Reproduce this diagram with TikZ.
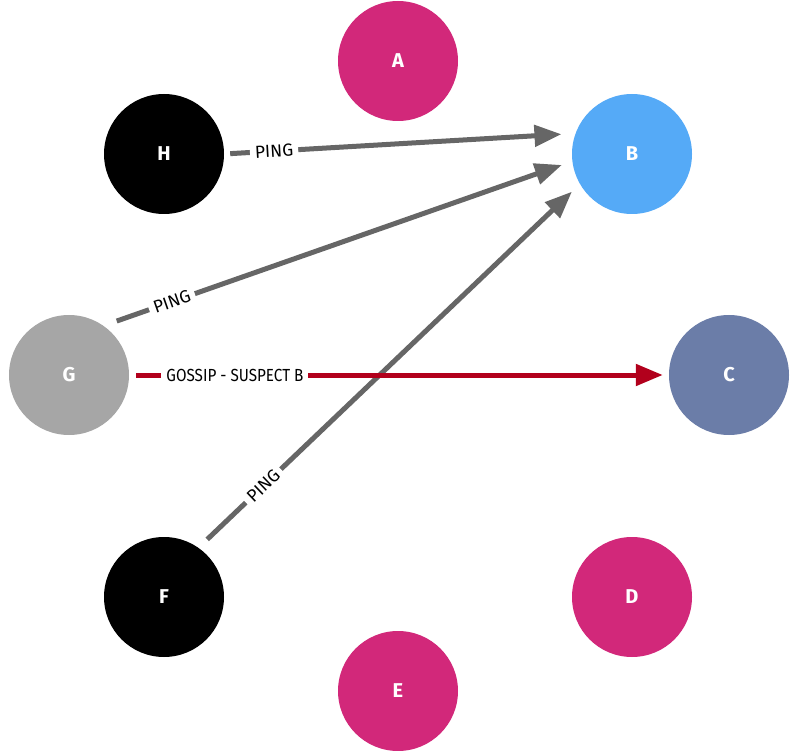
\documentclass[tikz,border=0pt]{standalone}
\usepackage{fontspec}
\setmainfont{Fira Sans}
\usetikzlibrary{arrows.meta}

\definecolor{peer}{RGB}{210,40,122}
\definecolor{target}{RGB}{85,170,247}
\definecolor{suspectnode}{RGB}{107,125,168}
\definecolor{sender}{RGB}{166,166,166}
\definecolor{pingline}{RGB}{102,102,102}
\definecolor{gossipline}{RGB}{178,0,28}

\tikzset{
  member/.style={circle, minimum size=120pt, inner sep=0pt, text=white,
    font=\fontsize{20}{20}\selectfont\bfseries},
  msg/.style={line width=5pt, line cap=butt,
    -{Triangle[length=27pt,width=21pt]}},
  ping/.style={msg, draw=pingline},
  gossip/.style={msg, draw=gossipline},
  tag/.style={fill=white, text=black, inner xsep=5pt, inner ysep=1pt,
    font=\fontsize{17.5}{17.5}\selectfont, sloped}
}

\begin{document}
\begin{tikzpicture}[x=1pt, y=-1pt]
  \useasboundingbox (0,0) rectangle (790,751);

  % cluster members arranged on a ring
  \node[member, fill=peer]        (A) at (398,61)  {A};
  \node[member, fill=target]      (B) at (632,154) {B};
  \node[member, fill=suspectnode] (C) at (729,375) {C};
  \node[member, fill=peer]        (D) at (632,597) {D};
  \node[member, fill=peer]        (E) at (398,691) {E};
  \node[member, fill=black]       (F) at (164,597) {F};
  \node[member, fill=sender]      (G) at (69,375)  {G};
  \node[member, fill=black]       (H) at (164,154) {H};

  % indirect probes towards B
  \draw[ping, shorten <=6pt, shorten >=14pt] (H.0) -- node[tag, pos=0.142] {PING} (B.160);
  \draw[ping, shorten <=14pt, shorten >=11pt] (G.55) -- node[tag, pos=0.146] {PING} (B.187);
  \draw[ping, shorten <=12pt, shorten >=11pt] (F.55) -- node[tag, pos=0.17] {PING} (B.210);

  % gossip about the suspected member
  \draw[gossip, shorten <=7pt, shorten >=6pt] (G.0) -- node[tag, pos=0.196] {\scalebox{0.87}[1]{GOSSIP - SUSPECT B}} (C.180);
\end{tikzpicture}
\end{document}
